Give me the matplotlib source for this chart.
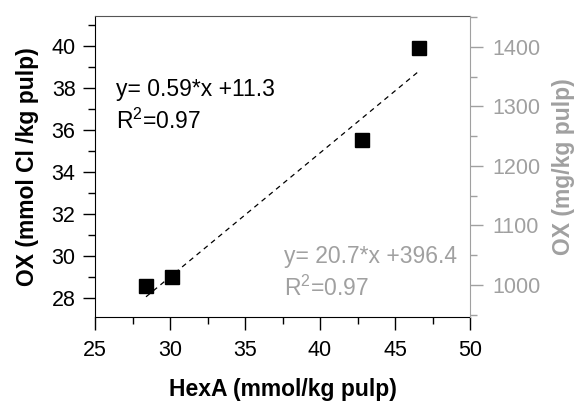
import numpy as np
import matplotlib
matplotlib.use("Agg")
import matplotlib.pyplot as plt
from matplotlib.ticker import MultipleLocator

# --- data ---
hexa = [28.4, 30.1, 42.8, 46.6]          # mmol/kg pulp
ox_cl = [28.57, 29.0, 35.52, 39.9]       # mmol Cl /kg pulp
fit_slope, fit_icpt = 0.59, 11.3
eq_left = ["y= 0.59*x +11.3", "R$^2$=0.97"]
eq_right = ["y= 20.7*x +396.4", "R$^2$=0.97"]

GRAY = "#a0a0a0"
TICK_FS = 15.5
TXT_FS = 16.5
plt.rcParams["font.family"] = ["Liberation Sans", "DejaVu Sans"]
plt.rcParams["mathtext.fontset"] = "custom"
plt.rcParams["mathtext.rm"] = "Liberation Sans"

fig = plt.figure(figsize=(5.84, 4.03), dpi=100)
ax = fig.add_axes([95 / 584, 1 - 316.7 / 403, 375 / 584, 301 / 403])

ax.plot(hexa, ox_cl, "s", color="black", markersize=9.5, zorder=3)
xs = np.array([min(hexa), max(hexa)])
ax.plot(xs, fit_slope * xs + fit_icpt, "--", color="black", linewidth=0.9,
        dashes=(4, 3.5))

ax.set_xlim(25, 50)
ax.set_ylim(27.11, 41.43)
ax.xaxis.set_major_locator(MultipleLocator(5))
ax.xaxis.set_minor_locator(MultipleLocator(2.5))
ax.yaxis.set_major_locator(MultipleLocator(2))
ax.yaxis.set_minor_locator(MultipleLocator(1))
ax.tick_params(which="major", direction="out", length=9, width=1,
               labelsize=TICK_FS, pad=5)
ax.tick_params(axis="x", which="major", pad=8)
ax.tick_params(which="minor", direction="out", length=5, width=1)
ax.spines["top"].set_color("#555555")
ax.spines["right"].set_visible(False)

ax.set_xlabel("HexA (mmol/kg pulp)", fontsize=TXT_FS, fontweight="bold",
              labelpad=12)
ax.set_ylabel("OX (mmol Cl /kg pulp)", fontsize=TXT_FS, fontweight="bold",
              labelpad=9)

ax.text(0.055, 0.755, eq_left[0], transform=ax.transAxes, fontsize=TXT_FS,
        va="center")
ax.text(0.055, 0.648, eq_left[1], transform=ax.transAxes, fontsize=TXT_FS,
        va="center")
ax.text(0.503, 0.2, eq_right[0], transform=ax.transAxes, fontsize=TXT_FS,
        va="center", color=GRAY)
ax.text(0.503, 0.095, eq_right[1], transform=ax.transAxes, fontsize=TXT_FS,
        va="center", color=GRAY)

# --- right axis in mg/kg pulp ---
ax2 = ax.twinx()
ax2.set_ylim(946.7, 1452.6)
ax2.yaxis.set_major_locator(MultipleLocator(100))
ax2.yaxis.set_minor_locator(MultipleLocator(50))
ax2.tick_params(which="major", direction="out", length=9, width=1,
                labelsize=TICK_FS, colors=GRAY, pad=7)
ax2.tick_params(which="minor", direction="out", length=5, width=1, colors=GRAY)
for s in ["left", "top", "bottom"]:
    ax2.spines[s].set_visible(False)
ax2.spines["right"].set_color(GRAY)
ax2.set_ylabel("OX (mg/kg pulp)", fontsize=TXT_FS, fontweight="bold", color=GRAY,
               labelpad=8)

fig.savefig("out.png", dpi=100)
